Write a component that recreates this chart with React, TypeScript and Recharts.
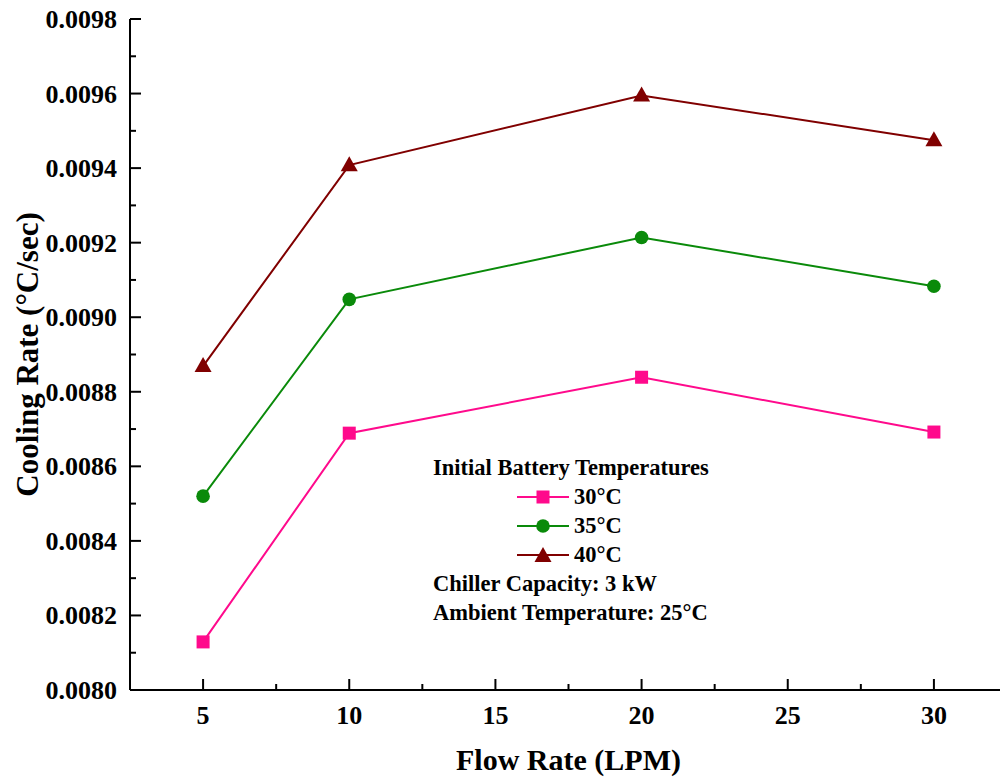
import { LineChart, Line, XAxis, YAxis, Legend } from 'recharts';

// flow rate (LPM)
const flowRates = [5, 10, 20, 30];
// cooling rate (°C/sec) by initial battery temperature
const rate30 = [0.008129, 0.008689, 0.008839, 0.008692];
const rate35 = [0.00852, 0.009048, 0.009214, 0.009083];
const rate40 = [0.008869, 0.009408, 0.009595, 0.009475];

const xMajor = [5, 10, 15, 20, 25, 30];
const xTicks = [2.5, 5, 7.5, 10, 12.5, 15, 17.5, 20, 22.5, 25, 27.5, 30, 32.5];
const yMajor = [0.008, 0.0082, 0.0084, 0.0086, 0.0088, 0.009, 0.0092, 0.0094, 0.0096, 0.0098];
const yTicks = [
  0.008, 0.0081, 0.0082, 0.0083, 0.0084, 0.0085, 0.0086, 0.0087, 0.0088, 0.0089,
  0.009, 0.0091, 0.0092, 0.0093, 0.0094, 0.0095, 0.0096, 0.0097, 0.0098,
];

const series = [
  { key: 'r30', name: '30°C', color: '#FF0A8C', marker: 'square', values: rate30 },
  { key: 'r35', name: '35°C', color: '#0A8A0A', marker: 'circle', values: rate35 },
  { key: 'r40', name: '40°C', color: '#800000', marker: 'triangle', values: rate40 },
];

const data = flowRates.map((f, i) => {
  const row: any = { flow: f };
  series.forEach((s) => (row[s.key] = s.values[i]));
  return row;
});

const FONT = '"Liberation Serif", "Times New Roman", serif';
const isMajorX = (v: number) => xMajor.some((m) => Math.abs(m - v) < 1e-9);
const isMajorY = (v: number) => yMajor.some((m) => Math.abs(m - v) < 1e-9);

function Marker({ type, cx, cy, color }: any) {
  if (cx == null || cy == null) return null;
  if (type === 'square') return <rect x={cx - 6.5} y={cy - 6.5} width={13} height={13} fill={color} />;
  if (type === 'circle') return <circle cx={cx} cy={cy} r={6.8} fill={color} />;
  return <polygon points={`${cx},${cy - 9} ${cx + 8.5},${cy + 6} ${cx - 8.5},${cy + 6}`} fill={color} />;
}

// tick renderers: inward tick lines, labels only on major ticks
const BottomTick = ({ x, y, payload }: any) => {
  const major = isMajorX(payload.value);
  return (
    <g>
      <line x1={x} y1={y} x2={x} y2={y - (major ? 11 : 6)} stroke="#000" strokeWidth={2} />
      {major && (
        <text x={x} y={y + 34} textAnchor="middle" fontFamily={FONT} fontWeight="bold" fontSize={26} fill="#000">
          {payload.value}
        </text>
      )}
    </g>
  );
};
const TopTick = ({ x, y, payload }: any) => (
  <line x1={x} y1={y} x2={x} y2={y + (isMajorX(payload.value) ? 11 : 6)} stroke="#000" strokeWidth={2} />
);
const LeftTick = ({ x, y, payload }: any) => {
  const major = isMajorY(payload.value);
  return (
    <g>
      <line x1={x} y1={y} x2={x + (major ? 11 : 6)} y2={y} stroke="#000" strokeWidth={2} />
      {major && (
        <text x={x - 13} y={y + 9} textAnchor="end" fontFamily={FONT} fontWeight="bold" fontSize={26} fill="#000">
          {payload.value.toFixed(4)}
        </text>
      )}
    </g>
  );
};
const RightTick = ({ x, y, payload }: any) => (
  <line x1={x} y1={y} x2={x - (isMajorY(payload.value) ? 11 : 6)} y2={y} stroke="#000" strokeWidth={2} />
);

const LegendBox = () => (
  <div style={{ fontFamily: FONT, fontWeight: 'bold', fontSize: 22.5, color: '#000', lineHeight: '29px' }}>
    <div>Initial Battery Temperatures</div>
    {series.map((s) => (
      <div key={s.key} style={{ display: 'flex', alignItems: 'center', paddingLeft: 84 }}>
        <svg width={54} height={20} style={{ marginRight: 3 }}>
          <line x1={0} y1={10} x2={52} y2={10} stroke={s.color} strokeWidth={2} />
          <Marker type={s.marker} cx={26} cy={s.marker === 'triangle' ? 11 : 10} color={s.color} />
        </svg>
        <span>{s.name}</span>
      </div>
    ))}
    <div>Chiller Capacity: 3 kW</div>
    <div>Ambient Temperature: 25°C</div>
  </div>
);

export default function App() {
  return (
    <div style={{ position: 'absolute', left: 0, top: 0, width: 1000, height: 778, background: '#fff', overflow: 'hidden' }}>
      <LineChart width={1000} height={778} data={data} margin={{ top: 19, right: -7, bottom: 0, left: 0 }}>
        <XAxis
          dataKey="flow"
          type="number"
          domain={[2.5, 32.5]}
          ticks={xTicks}
          interval={0}
          height={88}
          tickSize={0}
          tickMargin={0}
          tickLine={false}
          tick={<BottomTick />}
          axisLine={{ stroke: '#000', strokeWidth: 2 }}
          label={{
            value: 'Flow Rate (LPM)',
            position: 'insideBottom',
            offset: 8,
            style: { fontFamily: FONT, fontWeight: 'bold', fontSize: 30, fill: '#000' },
          }}
        />
        <XAxis
          xAxisId="top"
          orientation="top"
          type="number"
          dataKey="flow"
          domain={[2.5, 32.5]}
          ticks={xTicks}
          interval={0}
          height={0}
          tickSize={0}
          tickMargin={0}
          tickLine={false}
          tick={<TopTick />}
          axisLine={{ stroke: '#000', strokeWidth: 2 }}
        />
        <YAxis
          type="number"
          domain={[0.008, 0.0098]}
          ticks={yTicks}
          interval={0}
          width={130}
          tickSize={0}
          tickMargin={0}
          tickLine={false}
          tick={<LeftTick />}
          axisLine={{ stroke: '#000', strokeWidth: 2 }}
          label={{
            value: 'Cooling Rate (°C/sec)',
            angle: -90,
            position: 'center',
            dx: -38,
            style: { fontFamily: FONT, fontWeight: 'bold', fontSize: 31, fill: '#000', textAnchor: 'middle' },
          }}
        />
        <YAxis
          yAxisId="right"
          orientation="right"
          type="number"
          domain={[0.008, 0.0098]}
          ticks={yTicks}
          interval={0}
          width={0}
          tickSize={0}
          tickMargin={0}
          tickLine={false}
          tick={<RightTick />}
          axisLine={{ stroke: '#000', strokeWidth: 2 }}
        />
        <Legend
          layout="vertical"
          align="center"
          verticalAlign="middle"
          content={<LegendBox />}
          wrapperStyle={{ left: 433, top: 453, width: 330, height: 150 }}
        />
        {series.map((s) => (
          <Line
            key={s.key}
            dataKey={s.key}
            name={s.name}
            type="linear"
            stroke={s.color}
            strokeWidth={2}
            isAnimationActive={false}
            dot={(p: any) => <Marker key={`${s.key}-${p.index}`} type={s.marker} cx={p.cx} cy={p.cy} color={s.color} />}
            activeDot={false}
          />
        ))}
      </LineChart>
    </div>
  );
}
